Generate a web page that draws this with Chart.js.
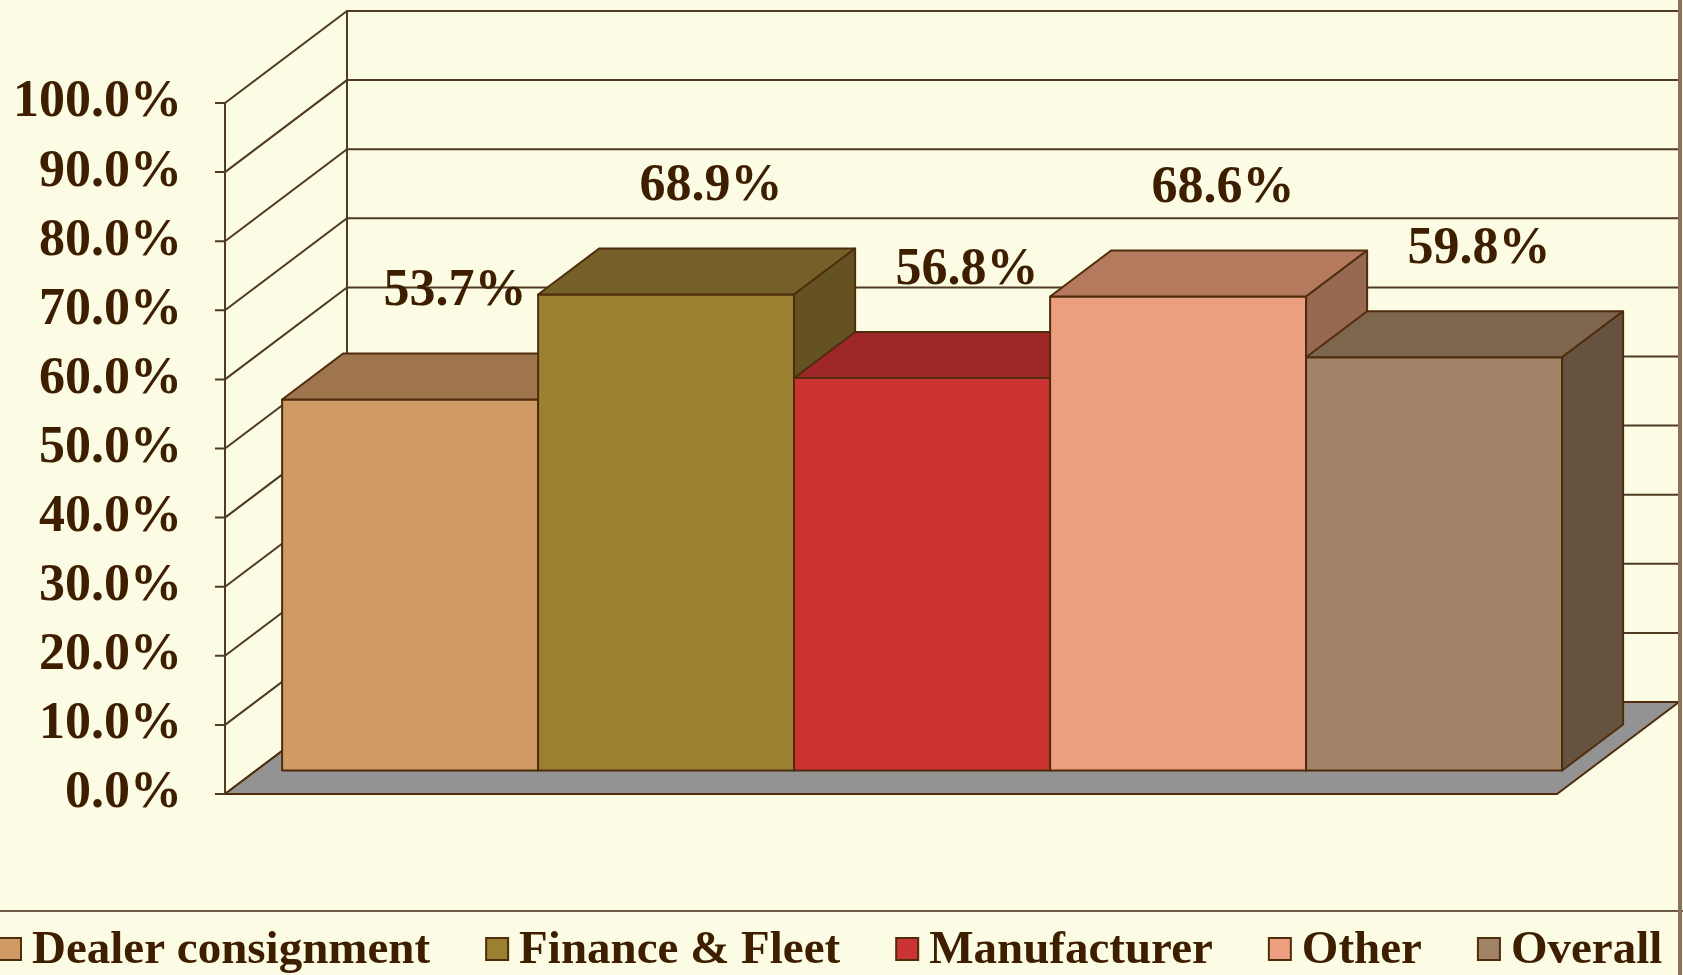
<!DOCTYPE html>
<html><head>
<meta charset="UTF-8">
<title>Share by seller type</title>
<style>
  html, body { margin: 0; padding: 0; background: #FCFBE3; }
  canvas { display: block; }
</style>
<script src="https://cdn.jsdelivr.net/npm/chart.js"></script>
</head>
<body>
<canvas id="chart" width="1683" height="975"></canvas>
<script>
  // data
  const categories = ['Dealer consignment', 'Finance & Fleet', 'Manufacturer', 'Other', 'Overall'];
  const shares = [53.7, 68.9, 56.8, 68.6, 59.8];
  const tickValues = [0, 10, 20, 30, 40, 50, 60, 70, 80, 90, 100];

  // look
  const frontColors = ['#D09A64', '#9B8032', '#CC3333', '#EC9F7E', '#A18467'];
  const topColors   = ['#9E754C', '#746028', '#9D2627', '#B57A5E', '#7E654D'];
  const sideColors  = ['#86613E', '#655222', '#832020', '#976950', '#66523F'];
  const bg = '#FCFBE3';
  const ink = '#3D1F00';
  const edge = '#4F2D0C';
  const gridColor = '#4F3A22';
  const serif = '"Liberation Serif", "Times New Roman", serif';

  // oblique depth of the whole plot box, bars sit between 25% and 75% of it
  const DX = 122, DY = 92;
  const barFront = 0.255, barBack = 0.755;
  const wallPad = 26;

  function poly(ctx, pts, fill, stroke, lw) {
    ctx.beginPath();
    ctx.moveTo(pts[0][0], pts[0][1]);
    for (let i = 1; i < pts.length; i++) ctx.lineTo(pts[i][0], pts[i][1]);
    ctx.closePath();
    if (fill) { ctx.fillStyle = fill; ctx.fill(); }
    if (stroke) { ctx.strokeStyle = stroke; ctx.lineWidth = lw || 2; ctx.stroke(); }
  }

  const box3d = {
    id: 'box3d',
    beforeDraw(chart) {
      const ctx = chart.ctx;
      ctx.save();
      ctx.fillStyle = bg;
      ctx.fillRect(0, 0, chart.width, chart.height);
      ctx.restore();
    },
    beforeDatasetsDraw(chart) {
      const ctx = chart.ctx, y = chart.scales.y, a = chart.chartArea;
      const L = a.left - wallPad, R = a.right + wallPad;
      const y0 = y.getPixelForValue(0), yMax = y.getPixelForValue(tickValues[tickValues.length - 1]);
      ctx.save();
      ctx.lineCap = 'butt';
      ctx.strokeStyle = gridColor;
      ctx.lineWidth = 2;
      // back wall + side wall grid
      tickValues.forEach(v => {
        const py = y.getPixelForValue(v);
        ctx.beginPath();
        ctx.moveTo(L, py);
        ctx.lineTo(L + DX, py - DY);
        ctx.lineTo(R + DX, py - DY);
        ctx.stroke();
      });
      ctx.beginPath();
      ctx.moveTo(L + DX, y0 - DY); ctx.lineTo(L + DX, yMax - DY);
      ctx.moveTo(R + DX, y0 - DY); ctx.lineTo(R + DX, yMax - DY);
      ctx.stroke();
      // floor
      poly(ctx, [[L, y0], [R, y0], [R + DX, y0 - DY], [L + DX, y0 - DY]], '#939393', edge, 2);
      // front axis with ticks
      ctx.strokeStyle = gridColor;
      ctx.lineWidth = 2;
      ctx.beginPath();
      ctx.moveTo(L, y0); ctx.lineTo(L, yMax);
      tickValues.forEach(v => {
        const py = y.getPixelForValue(v);
        ctx.moveTo(L - 10, py); ctx.lineTo(L, py);
      });
      ctx.stroke();
      ctx.restore();
    },
    afterDatasetsDraw(chart) {
      const ctx = chart.ctx;
      const meta = chart.getDatasetMeta(0);
      const fx = barFront * DX, fy = barFront * DY, bx = barBack * DX, by = barBack * DY;
      ctx.save();
      ctx.lineJoin = 'round';
      meta.data.forEach((el, i) => {
        const l = el.x - el.width / 2, r = el.x + el.width / 2, t = el.y, b = el.base;
        poly(ctx, [[l + fx, t - fy], [r + fx, t - fy], [r + fx, b - fy], [l + fx, b - fy]], frontColors[i], edge, 2);
        poly(ctx, [[l + fx, t - fy], [r + fx, t - fy], [r + bx, t - by], [l + bx, t - by]], topColors[i], edge, 2);
        poly(ctx, [[r + fx, t - fy], [r + bx, t - by], [r + bx, b - by], [r + fx, b - fy]], sideColors[i], edge, 2);
      });
      // value labels
      ctx.fillStyle = ink;
      ctx.font = 'bold 52px ' + serif;
      ctx.textAlign = 'center';
      ctx.textBaseline = 'middle';
      meta.data.forEach((el, i) => {
        ctx.fillText(shares[i].toFixed(1) + '%', el.x + 76, el.y - 131);
      });
      ctx.restore();
    },
    afterDraw(chart) {
      const ctx = chart.ctx, W = chart.width;
      ctx.save();
      // legend frame
      ctx.strokeStyle = '#6E5B45';
      ctx.lineWidth = 2;
      ctx.beginPath(); ctx.moveTo(0, 911); ctx.lineTo(W, 911); ctx.stroke();
      ctx.strokeStyle = '#8A7259';
      ctx.lineWidth = 4;
      ctx.beginPath(); ctx.moveTo(W - 3, 0); ctx.lineTo(W - 3, chart.height); ctx.stroke();
      // legend items
      ctx.font = 'bold 47px ' + serif;
      ctx.textAlign = 'left';
      ctx.textBaseline = 'alphabetic';
      let x = -1;
      categories.forEach((name, i) => {
        ctx.fillStyle = frontColors[i];
        ctx.fillRect(x, 938, 22, 22);
        ctx.strokeStyle = edge;
        ctx.lineWidth = 2;
        ctx.strokeRect(x, 938, 22, 22);
        ctx.fillStyle = ink;
        ctx.fillText(name, x + 33, 963);
        x += 33 + ctx.measureText(name).width + 56;
      });
      ctx.restore();
    }
  };

  new Chart(document.getElementById('chart'), {
    type: 'bar',
    data: {
      labels: categories,
      datasets: [{
        data: shares,
        backgroundColor: 'rgba(0,0,0,0)',
        borderWidth: 0,
        categoryPercentage: 1.0,
        barPercentage: 1.0
      }]
    },
    options: {
      responsive: false,
      animation: false,
      devicePixelRatio: 1,
      layout: { padding: { left: 0, right: 152, top: 103, bottom: 181 } },
      plugins: {
        legend: { display: false },
        tooltip: { enabled: false }
      },
      scales: {
        x: { display: false, offset: true },
        y: {
          min: 0,
          max: 100,
          afterBuildTicks(scale) { scale.ticks = tickValues.map(v => ({ value: v })); },
          afterFit(scale) { scale.width = 251; },
          grid: { display: false, drawTicks: false },
          border: { display: false },
          ticks: {
            padding: 69,
            color: ink,
            font: { family: serif, weight: 'bold', size: 52 },
            callback: v => v.toFixed(1) + '%'
          }
        }
      }
    },
    plugins: [box3d]
  });
</script>
</body></html>
